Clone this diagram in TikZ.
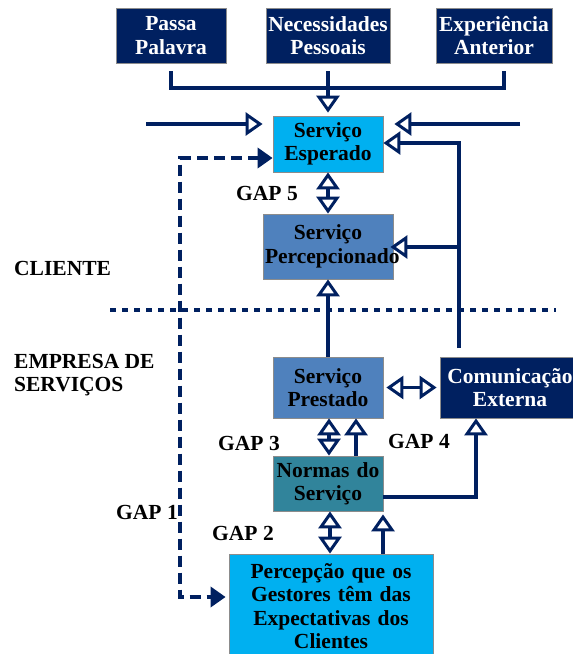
\documentclass[tikz,border=0pt]{standalone}
\usepackage{fontspec}
\setmainfont{Liberation Serif}
\usetikzlibrary{arrows.meta}
\definecolor{navy}{HTML}{002060}
\definecolor{skyblue}{HTML}{00B0F0}
\definecolor{steel}{HTML}{4F81BD}
\definecolor{teal}{HTML}{31849B}
\definecolor{boxgray}{HTML}{8C8C8C}
\begin{document}
\begin{tikzpicture}[x=1pt, y=-1pt]
    % Define node styles
    \tikzstyle{box}=[rectangle, draw=boxgray, line width=0.8pt, align=center, inner xsep=2pt, inner ysep=0pt, font=\fontsize{21.5}{23.5}\selectfont\bfseries]
    \tikzstyle{navybox}=[box, fill=navy, text=white]
    \tikzstyle{skybox}=[box, fill=skyblue]
    \tikzstyle{steelbox}=[box, fill=steel]
    \tikzstyle{tealbox}=[box, fill=teal]
    \tikzstyle{gaplabel}=[font=\fontsize{21.5}{23.5}\selectfont\bfseries, inner sep=0pt]
    \tikzstyle{plain}=[line width=3.6pt, draw=navy]
    \tikzstyle{flow}=[plain, -{Triangle[open, length=17pt, width=23pt, line width=3pt]}]
    \tikzstyle{twoway}=[plain, {Triangle[open, length=17pt, width=23pt, line width=3pt]}-{Triangle[open, length=17pt, width=23pt, line width=3pt]}]
    \tikzstyle{gapline}=[plain, dash pattern=on 11pt off 6pt, {Triangle[length=15pt, width=20pt]}-{Triangle[length=15pt, width=20pt]}]

    \useasboundingbox (0,0) rectangle (573,654);

    % Top level: expectation sources
    \node[navybox, text width=106pt, minimum height=55pt] (pp) at (171, 35.5) {Passa\\Palavra};
    \node[navybox, text width=120pt, minimum height=55pt] (np) at (328, 35.5) {Necessidades\\Pessoais};
    \node[navybox, text width=112pt, minimum height=55pt] (ea) at (494, 35.5) {Experiência\\Anterior};

    % Client side
    \node[skybox, text width=106pt, minimum height=56pt] (esp) at (328, 144) {Serviço\\Esperado};
    \node[steelbox, text width=126pt, minimum height=65pt] (perc) at (328, 246.5) {Serviço\\Percepcionado};

    % Company side
    \node[steelbox, text width=106pt, minimum height=61pt] (prest) at (328, 387.5) {Serviço\\Prestado};
    \node[navybox, text width=136pt, minimum height=61pt] (comun) at (510, 387.5) {Comunicação\\Externa};
    \node[tealbox, text width=106pt, minimum height=55pt] (norm) at (328, 483.5) {Normas do\\Serviço};
    \node[skybox, text width=200pt, minimum height=104pt] (gest) at (331, 606) {Percepção que os\\Gestores têm das\\Expectativas dos\\Clientes};

    % Zone labels
    \node[gaplabel, anchor=west] (cli) at (14, 268) {CLIENTE};
    \node[gaplabel, anchor=west, align=left] (emp) at (14, 375) {EMPRESA DE\\SERVIÇOS};
    \draw[navy, line width=4.5pt, dash pattern=on 6pt off 6pt] (110, 310) -- (556, 310);

    % Gap labels
    \node[gaplabel] (gap5) at (267, 193) {GAP 5};
    \node[gaplabel] (gap3) at (249, 443) {GAP 3};
    \node[gaplabel] (gap4) at (419, 441) {GAP 4};
    \node[gaplabel] (gap1) at (147, 512) {GAP 1};
    \node[gaplabel] (gap2) at (243, 533) {GAP 2};

    % Free ends
    \coordinate (bus) at (328, 88);
    \coordinate (inL) at (146, 124);
    \coordinate (inR) at (520, 124);
    \coordinate (loopTop) at (459, 143);
    \coordinate (loopMid) at (459, 247);
    \coordinate (loopBot) at (459, 348);
    \coordinate (g1top) at (180, 158);
    \coordinate (g1bot) at (180, 597);

    % Sources into expected service
    \draw[plain] ([yshift=-8pt]pp.south) |- (bus) -| ([xshift=10pt, yshift=-8pt]ea.south);
    \draw[flow] ([yshift=-8pt]np.south) -- ([yshift=3pt]esp.north);
    \draw[flow] (inL) -- ([xshift=-10pt]esp.west |- inL);
    \draw[flow] (inR) -- ([xshift=11pt]esp.east |- inR);

    % External communication loop
    \draw[flow] (loopBot) -- (loopTop) -- (esp.east |- loopTop);
    \draw[flow] (loopMid) -- ([xshift=-3pt]perc.east |- loopMid);

    % Gaps and flows
    \draw[twoway] (esp.south) -- (perc.north);
    \draw[flow] (prest.north) -- (perc.south);
    \draw[twoway] ([xshift=3pt]prest.east) -- ([xshift=-3pt]comun.west);
    \draw[twoway] ([xshift=1pt]norm.north) -- ([xshift=1pt]prest.south);
    \draw[flow] ([xshift=28pt]norm.north) -- ([xshift=28pt]prest.south);
    \draw[flow] ([yshift=-13.5pt]norm.east) -| ([xshift=-34pt]comun.south);
    \draw[twoway] ([xshift=-1pt]gest.north) -- ([xshift=2pt]norm.south);
    \draw[flow] ([xshift=52pt]gest.north) -- ([xshift=55pt, yshift=-3pt]norm.south);
    \draw[gapline] (esp.west |- g1top) -- (g1top) -- (g1bot) -- ([xshift=-3pt]gest.west |- g1bot);

\end{tikzpicture}
\end{document}
